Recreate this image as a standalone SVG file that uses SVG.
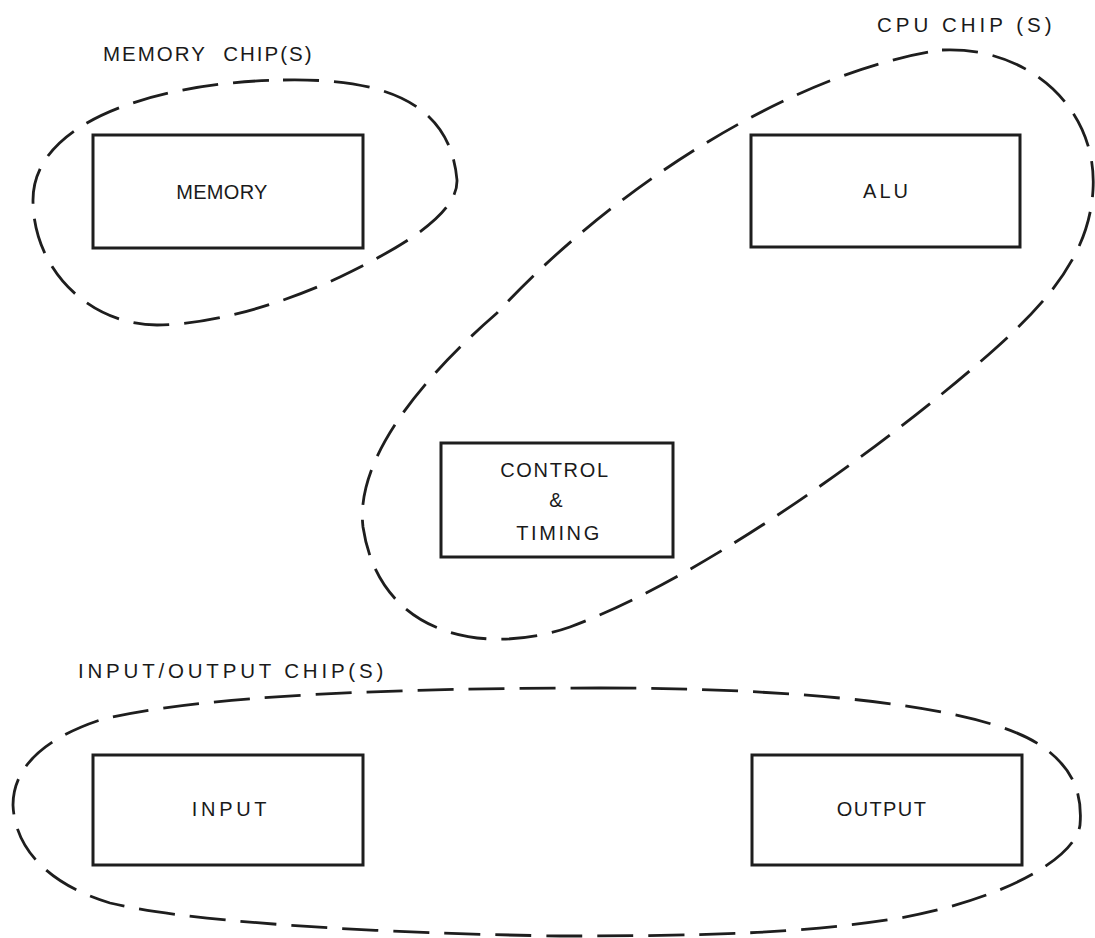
<svg xmlns="http://www.w3.org/2000/svg" width="1095" height="938" viewBox="0 0 1095 938">
  <style>
    .box { fill: #fff; stroke: #1e1e1e; stroke-width: 3; }
    .chip { fill: none; stroke: #1e1e1e; stroke-width: 2.8; stroke-dasharray: 36 15; stroke-linecap: butt; }
    .lbl { font-family: "Liberation Sans", Arial, sans-serif; font-size: 20px; fill: #1a1a1a; text-anchor: middle; }
    .grp { font-family: "Liberation Sans", Arial, sans-serif; font-size: 20.5px; fill: #1a1a1a; }
  </style>
  <rect width="1095" height="938" fill="#fff"/>

  <!-- chip outlines -->
  <g id="chips">
    <path id="memory-chip" class="chip" d="M 283 80 C 380 78, 450 100, 457 180 C 458 215, 400 248, 340 277 C 280 305, 210 325, 157 325 C 90 325, 33 270, 33 200 C 33 120, 160 82, 283 80 Z"/>
    <path id="cpu-chip" class="chip" d="M 942 50 C 1030 46, 1098 110, 1093 190 C 1089 260, 1040 310, 980 362 C 890 440, 710 575, 570 627 C 490 655, 380 640, 363 527 C 355 460, 420 380, 497 313 C 620 180, 800 70, 942 50 Z"/>
    <path id="io-chip" class="chip" d="M 600 688 C 800 688, 980 705, 1040 745 C 1070 765, 1083 790, 1080 825 C 1075 860, 1000 900, 900 918 C 800 934, 700 936, 560 936 C 420 934, 200 925, 110 903 C 50 885, 15 850, 13 805 C 13 770, 40 740, 100 720 C 200 695, 400 688, 600 688 Z"/>
  </g>

  <!-- chip captions -->
  <text class="grp" x="103" y="61" letter-spacing="2" word-spacing="9">MEMORY CHIP(S)</text>
  <text class="grp" x="877" y="32" letter-spacing="4">CPU CHIP (S)</text>
  <text class="grp" x="78" y="678" letter-spacing="3.8">INPUT/OUTPUT CHIP(S)</text>

  <!-- functional blocks -->
  <g id="memory">
    <rect class="box" x="93" y="135" width="270" height="113"/>
    <text class="lbl" x="222" y="199" letter-spacing="0.3">MEMORY</text>
  </g>
  <g id="alu">
    <rect class="box" x="751" y="135" width="269" height="112"/>
    <text class="lbl" x="887" y="198" letter-spacing="3">ALU</text>
  </g>
  <g id="control">
    <rect class="box" x="441" y="443" width="232" height="114"/>
    <text class="lbl" x="555" y="477" letter-spacing="1.7">CONTROL</text>
    <text class="lbl" x="556" y="507">&amp;</text>
    <text class="lbl" x="559" y="540" letter-spacing="2.6">TIMING</text>
  </g>
  <g id="input">
    <rect class="box" x="93" y="755" width="270" height="110"/>
    <text class="lbl" x="231" y="816" letter-spacing="3.7">INPUT</text>
  </g>
  <g id="output">
    <rect class="box" x="752" y="755" width="270" height="110"/>
    <text class="lbl" x="882" y="816" letter-spacing="1.4">OUTPUT</text>
  </g>

  <g id="connectors"/>
</svg>
